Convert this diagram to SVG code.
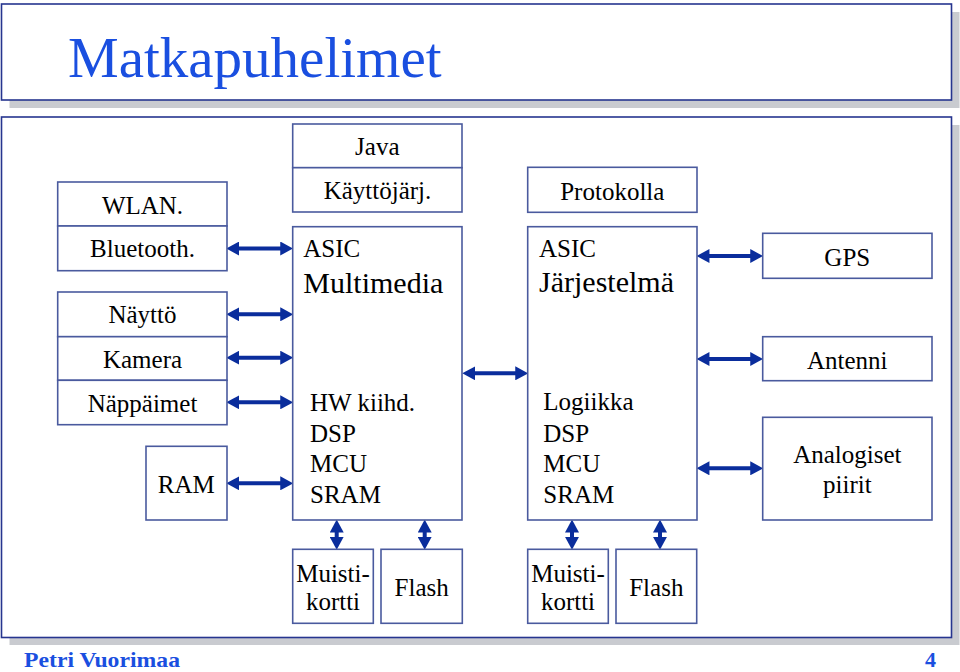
<svg xmlns="http://www.w3.org/2000/svg" width="960" height="672" viewBox="0 0 960 672">
<defs>
<style>
.frame{fill:#ffffff;stroke:#26358f;stroke-width:1.6}
.shadow{fill:#c9cbd0}
.box{fill:#ffffff;stroke:#4a5a9e;stroke-width:1.6}
.t{font-family:"Liberation Serif","Times New Roman",serif;font-size:25px;fill:#000}
.c{text-anchor:middle}
.big{font-size:30px}
.conn{stroke:#0a2d9c;stroke-width:4;fill:none;marker-start:url(#ah);marker-end:url(#ah)}
.foot{font-family:"Liberation Serif","Times New Roman",serif;font-weight:bold;font-size:22px;fill:#1a4fe0}
</style>
<marker id="ah" markerUnits="userSpaceOnUse" markerWidth="13" markerHeight="14" viewBox="0 0 12 13" refX="6" refY="6.5" orient="auto-start-reverse">
<path d="M0,0 L12,6.5 L0,13 z" fill="#0a2d9c"/>
</marker>
</defs>
<rect width="960" height="672" fill="#ffffff"/>

<!-- title frame -->
<rect class="shadow" x="9.5" y="12" width="950" height="96"/>
<rect class="frame" x="1.5" y="4" width="950" height="96"/>
<text x="68" y="77" font-family="'Liberation Serif','Times New Roman',serif" font-size="57" fill="#1a4fe0">Matkapuhelimet</text>

<!-- main frame -->
<rect class="shadow" x="9.5" y="125" width="950" height="520"/>
<rect class="frame" x="1.5" y="117" width="950" height="520.5"/>

<g id="connectors">
<line class="conn" x1="232.7" y1="248.5" x2="286.7" y2="248.5"/>
<line class="conn" x1="232.7" y1="314.3" x2="286.7" y2="314.3"/>
<line class="conn" x1="232.7" y1="357.7" x2="286.7" y2="357.7"/>
<line class="conn" x1="232.7" y1="402.3" x2="286.7" y2="402.3"/>
<line class="conn" x1="232.7" y1="483.3" x2="286.7" y2="483.3"/>
<line class="conn" x1="468.7" y1="373.3" x2="521.7" y2="373.3"/>
<line class="conn" x1="703" y1="256" x2="756.7" y2="256"/>
<line class="conn" x1="703" y1="359" x2="756.7" y2="359"/>
<line class="conn" x1="703" y1="468.3" x2="756.7" y2="468.3"/>
<line class="conn" x1="336.7" y1="526" x2="336.7" y2="543.3"/>
<line class="conn" x1="424.7" y1="526" x2="424.7" y2="543.3"/>
<line class="conn" x1="572" y1="526" x2="572" y2="543.3"/>
<line class="conn" x1="660" y1="526" x2="660" y2="543.3"/>
</g>

<g id="java"><rect class="box" x="292.7" y="124" width="169.3" height="43.7"/><text class="t c" x="377.3" y="155">Java</text></g>
<g id="kayttojarj"><rect class="box" x="292.7" y="167.7" width="169.3" height="44.3"/><text class="t c" x="377.5" y="199.3">Käyttöjärj.</text></g>

<g id="wlan"><rect class="box" x="57.7" y="182" width="169.3" height="44"/><text class="t c" x="142.5" y="213.5">WLAN.</text></g>
<g id="bluetooth"><rect class="box" x="57.7" y="226" width="169.3" height="44.7"/><text class="t c" x="142.5" y="257.3">Bluetooth.</text></g>
<g id="naytto"><rect class="box" x="57.7" y="292" width="169.3" height="44.7"/><text class="t c" x="142.5" y="323.3">Näyttö</text></g>
<g id="kamera"><rect class="box" x="57.7" y="336.7" width="169.3" height="43.6"/><text class="t c" x="142.5" y="368.3">Kamera</text></g>
<g id="nappaimet"><rect class="box" x="57.7" y="380.3" width="169.3" height="44.4"/><text class="t c" x="142.5" y="411.7">Näppäimet</text></g>
<g id="ram"><rect class="box" x="146" y="446.3" width="81" height="73.7"/><text class="t c" x="186.3" y="492.7">RAM</text></g>

<g id="asic-multimedia"><rect class="box" x="292.7" y="226.7" width="169.3" height="293.3"/>
<text class="t" x="303.3" y="256.7">ASIC</text>
<text class="t big" x="303.3" y="292.7">Multimedia</text>
<text class="t" x="310" y="410.7">HW kiihd.</text>
<text class="t" x="310" y="441.7">DSP</text>
<text class="t" x="310" y="471.7">MCU</text>
<text class="t" x="310" y="503.3">SRAM</text></g>

<g id="protokolla"><rect class="box" x="527.7" y="167.3" width="169.3" height="45"/><text class="t c" x="612.3" y="200">Protokolla</text></g>

<g id="asic-jarjestelma"><rect class="box" x="527.7" y="226.7" width="169.3" height="293.3"/>
<text class="t" x="539" y="256.7">ASIC</text>
<text class="t big" x="539" y="291.7">Järjestelmä</text>
<text class="t" x="543.3" y="410">Logiikka</text>
<text class="t" x="543.3" y="441.7">DSP</text>
<text class="t" x="543.3" y="472.3">MCU</text>
<text class="t" x="543.3" y="503.3">SRAM</text></g>

<g id="gps"><rect class="box" x="762.7" y="233.3" width="169.3" height="45"/><text class="t c" x="847.3" y="266">GPS</text></g>
<g id="antenni"><rect class="box" x="762.7" y="336.7" width="169.3" height="44"/><text class="t c" x="847.3" y="369">Antenni</text></g>
<g id="analogiset"><rect class="box" x="762.7" y="417.3" width="169.3" height="102.7"/><text class="t c" x="847.3" y="463.3">Analogiset</text><text class="t c" x="847.3" y="493.3">piirit</text></g>

<g id="muistikortti1"><rect class="box" x="292.7" y="549.3" width="80.6" height="74"/><text class="t c" x="333" y="581.7">Muisti-</text><text class="t c" x="333" y="610">kortti</text></g>
<g id="flash1"><rect class="box" x="381" y="549.3" width="81.3" height="74"/><text class="t c" x="421.7" y="596">Flash</text></g>
<g id="muistikortti2"><rect class="box" x="527.7" y="549.3" width="80.6" height="74"/><text class="t c" x="568" y="581.7">Muisti-</text><text class="t c" x="568" y="610">kortti</text></g>
<g id="flash2"><rect class="box" x="616" y="549.3" width="80.7" height="74"/><text class="t c" x="656.3" y="596">Flash</text></g>

<text class="foot" x="24" y="667" textLength="156" lengthAdjust="spacingAndGlyphs">Petri Vuorimaa</text>
<text class="foot" x="925" y="667">4</text>
</svg>
